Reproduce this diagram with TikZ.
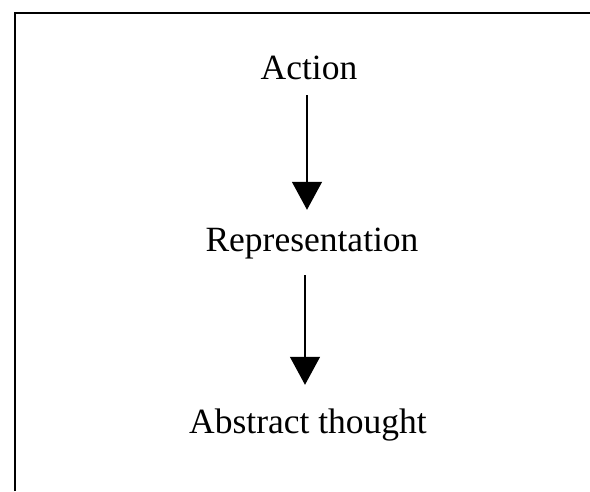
\documentclass[tikz,border=0pt]{standalone}
\usepackage{fontspec}
\setmainfont{Liberation Serif}
\usetikzlibrary{arrows.meta}
\begin{document}
\begin{tikzpicture}[x=1pt,y=1pt,
  label text/.style={font=\fontsize{35.5pt}{40pt}\selectfont, inner sep=0pt,
    text height=25pt, text depth=8pt, anchor=base},
  flow/.style={line width=1.3pt, -{Triangle[width=30pt,length=28pt]}}]
\useasboundingbox (0,0) rectangle (590,-491);
% partial frame
\draw[line width=2pt] (15,-491) -- (15,-13) -- (590,-13);
\node[label text] (act) at (309,-79) {Action};
\node[label text] (rep) at (312,-251) {Representation};
\node[label text] (abs) at (308,-433) {Abstract thought};
\draw[flow, shorten <=8pt, shorten >=16pt] ([xshift=-2pt]act.south) -- ([xshift=-2pt]act.south |- rep.north);
\draw[flow, shorten <=16pt, shorten >=23pt] ([xshift=-7pt]rep.south) -- ([xshift=-7pt]rep.south |- abs.north);
\end{tikzpicture}
\end{document}
